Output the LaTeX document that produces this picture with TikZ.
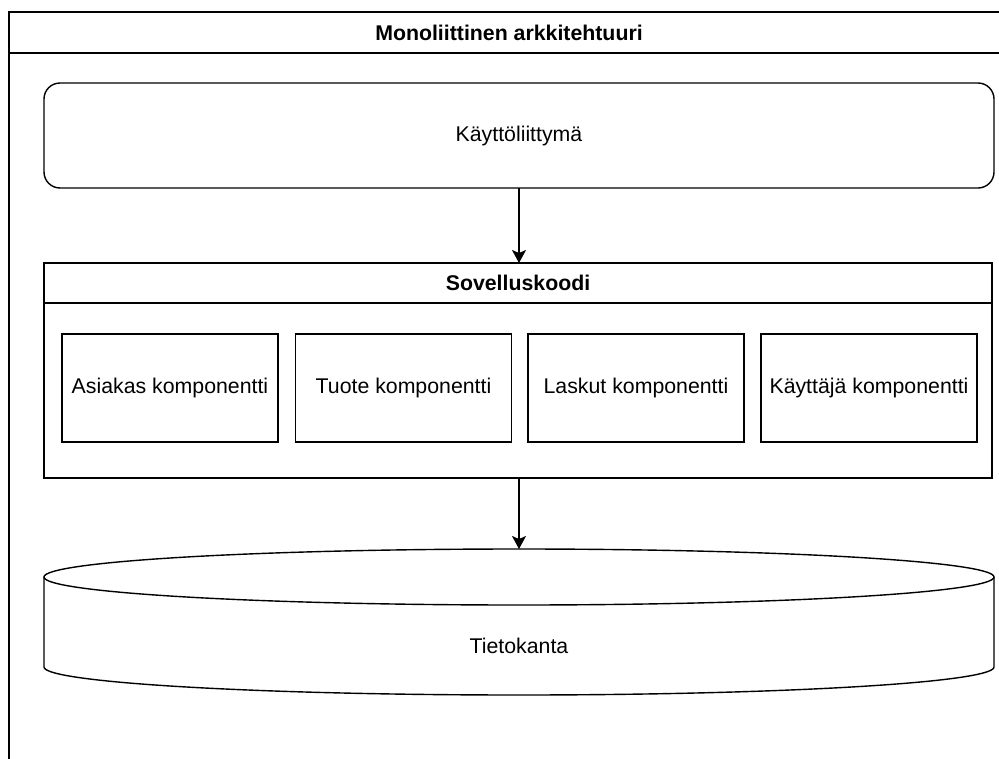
\documentclass[tikz,border=0pt]{standalone}
\usepackage{fontspec}
\setmainfont{Liberation Sans}
\usetikzlibrary{arrows.meta}
\begin{document}
\begin{tikzpicture}[x=1pt,y=-1pt,
  line width=1.4pt,
  lbl/.style={font=\fontsize{21.3}{25}\selectfont, inner sep=0pt},
  ttl/.style={font=\fontsize{21.3}{25}\selectfont\bfseries, inner sep=0pt},
  comp/.style={draw, rectangle, inner sep=0pt, minimum width=216pt, minimum height=108pt,
               font=\fontsize{21.3}{25}\selectfont},
  flow/.style={-{Stealth[length=13pt,width=14pt,inset=3pt]}, line width=1.4pt}]
\useasboundingbox (0,0) rectangle (999,758);
\fill[white] (0,0) rectangle (999,758);

% outer container with title bar
\begin{scope}
\clip (0,0) rectangle (999,758);
\draw (9,12) rectangle (1012,800);
\draw (9,53) -- (1012,53);
\end{scope}
\node[ttl] (title) at (509,32.5) {Monoliittinen arkkitehtuuri};

% user interface
\draw[rounded corners=16pt] (44,83) rectangle (994,188);
\node[lbl] (ui) at (519,135.5) {Käyttöliittymä};
\coordinate (uibot) at (519,188);

% application code container
\draw (44,263) rectangle (992,478);
\draw (44,303) -- (992,303);
\node[ttl] (app) at (518,283) {Sovelluskoodi};
\coordinate (apptop) at (519,263);
\coordinate (appbot) at (519,478);

\node[comp] (c1) at (170,388) {Asiakas komponentti};
\node[comp] (c2) at (403.5,388) {Tuote komponentti};
\node[comp] (c3) at (636,388) {Laskut komponentti};
\node[comp] (c4) at (869,388) {Käyttäjä komponentti};

% database cylinder
\draw (519,577) ellipse [x radius=475, y radius=28];
\draw (44,577) -- (44,667) arc[start angle=180, end angle=0, x radius=475, y radius=28] -- (994,577);
\node[lbl] (db) at (519,646) {Tietokanta};
\coordinate (dbtop) at (519,549);

% connectors
\draw[flow] (uibot) -- (apptop);
\draw[flow] (appbot) -- (dbtop);
\end{tikzpicture}
\end{document}
